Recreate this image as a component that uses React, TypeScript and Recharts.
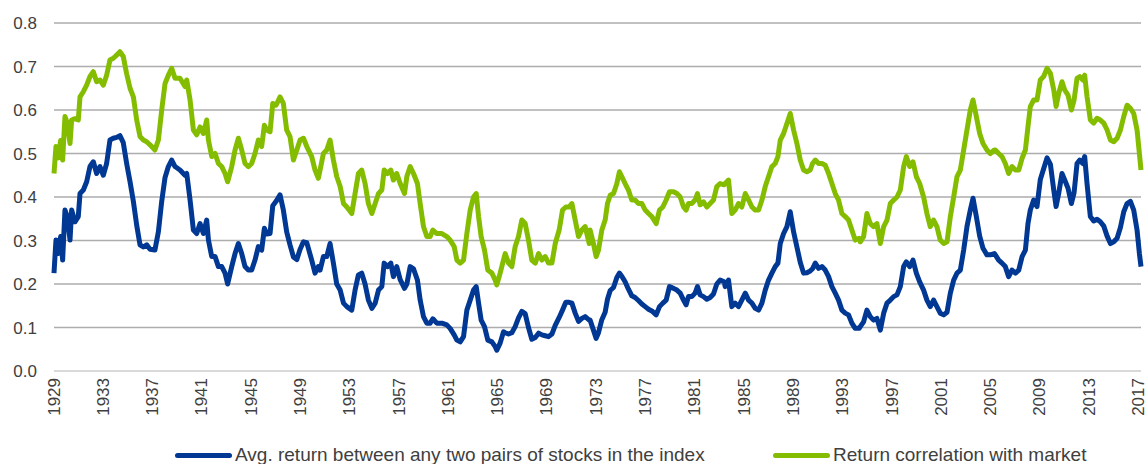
import { CartesianGrid, Line, LineChart, XAxis, YAxis } from 'recharts';

// values, shared year grid for both series
const years = [
  1929.0, 1929.16, 1929.35, 1929.54, 1929.7, 1929.89, 1930.08, 1930.3, 1930.43, 1930.7, 1930.97, 1931.11, 1931.38, 1931.65,
  1931.92, 1932.19, 1932.46, 1932.73, 1933.0, 1933.27, 1933.54, 1933.81, 1934.08, 1934.35, 1934.62, 1934.89, 1935.17, 1935.44,
  1935.71, 1935.98, 1936.25, 1936.52, 1936.79, 1937.19, 1937.47, 1937.74, 1938.01, 1938.28, 1938.55, 1938.82, 1939.22, 1939.63,
  1939.77, 1940.04, 1940.31, 1940.58, 1940.85, 1941.12, 1941.39, 1941.53, 1941.8, 1942.07, 1942.34, 1942.61, 1942.88, 1943.09,
  1943.42, 1943.69, 1943.96, 1944.23, 1944.5, 1944.77, 1945.04, 1945.31, 1945.58, 1945.85, 1946.07, 1946.26, 1946.53, 1946.75,
  1947.02, 1947.34, 1947.61, 1947.88, 1948.15, 1948.43, 1948.7, 1948.97, 1949.24, 1949.51, 1949.91, 1950.18, 1950.45,
  1950.59, 1950.86, 1951.13, 1951.4, 1951.67, 1951.94, 1952.22, 1952.49, 1952.76, 1953.16, 1953.43, 1953.7, 1953.97, 1954.24,
  1954.51, 1954.79, 1955.06, 1955.33, 1955.6, 1955.79, 1956.06, 1956.33, 1956.54, 1956.81, 1957.09, 1957.44, 1957.63, 1957.9,
  1958.17, 1958.49, 1958.71, 1958.98, 1959.25, 1959.52, 1959.74, 1960.06, 1960.47, 1960.87, 1961.14, 1961.47,
  1961.69, 1961.96, 1962.23, 1962.5, 1962.77, 1963.04, 1963.26, 1963.45, 1963.66, 1963.93, 1964.2, 1964.53, 1964.8, 1964.93,
  1965.2, 1965.47, 1965.61, 1965.88, 1966.15, 1966.42, 1966.69, 1966.96, 1967.23, 1967.5, 1967.77, 1968.05, 1968.32, 1968.59,
  1968.86, 1969.13, 1969.4, 1969.67, 1969.99, 1970.26, 1970.53, 1970.8, 1971.02, 1971.29, 1971.56, 1971.83, 1972.1, 1972.43,
  1972.5, 1972.77, 1972.99, 1973.18, 1973.45, 1973.72, 1973.91, 1974.13, 1974.4, 1974.67, 1974.88, 1975.07, 1975.34, 1975.61,
  1975.88, 1976.15, 1976.42, 1976.7, 1976.97, 1977.24, 1977.51, 1977.86, 1978.13, 1978.4, 1978.67, 1978.94, 1979.27, 1979.54,
  1979.81, 1980.08, 1980.29, 1980.48, 1980.75, 1981.02, 1981.21, 1981.43, 1981.7, 1981.97, 1982.24, 1982.51, 1982.78, 1983.05,
  1983.38,
  1983.46, 1983.73, 1984.0, 1984.27, 1984.54, 1984.81, 1985.09, 1985.36, 1985.63, 1985.9, 1986.17, 1986.44, 1986.71, 1986.98,
  1987.25, 1987.52, 1987.74, 1987.93, 1988.2, 1988.47, 1988.74, 1989.01, 1989.28, 1989.55, 1989.82, 1990.09, 1990.36, 1990.55,
  1990.77, 1991.04, 1991.31, 1991.58, 1991.85, 1992.12, 1992.39, 1992.66, 1992.93, 1993.2, 1993.47, 1993.74, 1994.01, 1994.34,
  1994.42, 1994.69, 1994.96, 1995.23, 1995.5, 1995.77, 1996.05, 1996.32, 1996.59, 1996.86, 1997.13, 1997.4, 1997.67, 1997.94,
  1998.16, 1998.43, 1998.7, 1998.97, 1999.24, 1999.56, 1999.83, 2000.1, 2000.37, 2000.64, 2000.91, 2001.19, 2001.46, 2001.73,
  2002.0, 2002.27, 2002.54, 2002.81, 2003.08, 2003.35, 2003.57, 2003.84, 2004.11, 2004.38, 2004.7, 2004.97, 2005.3,
  2005.38, 2005.65, 2005.92, 2006.19, 2006.46, 2006.73, 2007.01, 2007.28, 2007.55, 2007.82, 2008.03, 2008.22, 2008.49, 2008.76,
  2009.03, 2009.3, 2009.58, 2009.85, 2010.12, 2010.31, 2010.52, 2010.79, 2011.01, 2011.28, 2011.55, 2011.77, 2012.01, 2012.23,
  2012.47, 2012.63, 2012.82, 2013.09, 2013.36, 2013.63, 2013.9, 2014.18, 2014.45, 2014.72, 2014.99, 2015.26, 2015.53, 2015.8,
  2016.07, 2016.34, 2016.61, 2016.88, 2017.07, 2017.2,
];

const avgReturn = [
  0.225, 0.301, 0.27, 0.309, 0.255, 0.37, 0.355, 0.301, 0.37, 0.343, 0.355, 0.408, 0.416, 0.435, 0.47, 0.481, 0.454, 0.47, 0.45,
  0.477, 0.531, 0.535, 0.537, 0.541, 0.525, 0.478, 0.435, 0.39, 0.335, 0.29, 0.285, 0.29, 0.28, 0.278, 0.32, 0.39, 0.445, 0.47,
  0.485, 0.47, 0.462, 0.45,
  0.454, 0.393, 0.324, 0.316, 0.339, 0.316, 0.347, 0.301, 0.263, 0.263, 0.24, 0.24, 0.225, 0.2, 0.24, 0.27, 0.293, 0.27, 0.24,
  0.232, 0.232, 0.255, 0.286, 0.278, 0.328, 0.315, 0.316, 0.38, 0.39, 0.405, 0.37, 0.32, 0.29, 0.262, 0.256, 0.28, 0.297, 0.295,
  0.255, 0.225, 0.24,
  0.232, 0.263, 0.263, 0.293, 0.248, 0.2, 0.186, 0.156, 0.148, 0.14, 0.186, 0.221, 0.225, 0.2, 0.163, 0.144, 0.156, 0.186, 0.194,
  0.248, 0.24, 0.248, 0.217, 0.24, 0.21, 0.19, 0.2, 0.24, 0.235, 0.209, 0.163, 0.125, 0.11, 0.11, 0.12, 0.11, 0.11, 0.106, 0.098,
  0.083,
  0.071, 0.067, 0.079, 0.14, 0.163, 0.186, 0.194, 0.156, 0.117, 0.102, 0.071, 0.067, 0.056, 0.048, 0.064, 0.09, 0.088, 0.085,
  0.088, 0.102, 0.122, 0.137, 0.132, 0.1, 0.073, 0.077, 0.087, 0.083, 0.081, 0.079, 0.085, 0.105, 0.123, 0.14, 0.158, 0.158,
  0.156, 0.133, 0.114, 0.121, 0.125, 0.117,
  0.117, 0.094, 0.075, 0.088, 0.118, 0.135, 0.165, 0.185, 0.192, 0.215, 0.225, 0.218, 0.205, 0.188, 0.173, 0.169, 0.162, 0.154,
  0.148, 0.142, 0.138, 0.129, 0.148, 0.156, 0.163, 0.194, 0.19, 0.186, 0.179, 0.163, 0.152, 0.171, 0.171, 0.179, 0.194, 0.175,
  0.171, 0.165, 0.169, 0.177, 0.2, 0.209, 0.205,
  0.194, 0.209, 0.148, 0.156, 0.148, 0.163, 0.179, 0.163, 0.156, 0.144, 0.14, 0.156, 0.186, 0.209, 0.225, 0.24, 0.248, 0.293,
  0.316, 0.332, 0.366, 0.32, 0.285, 0.25, 0.225, 0.226, 0.23, 0.235, 0.248, 0.236, 0.24, 0.232, 0.217, 0.194, 0.179, 0.163, 0.14,
  0.133, 0.129, 0.11, 0.098, 0.098,
  0.102, 0.113, 0.14, 0.125, 0.117, 0.121, 0.094, 0.133, 0.156, 0.163, 0.171, 0.175, 0.194, 0.24, 0.251, 0.24, 0.255, 0.225,
  0.205, 0.186, 0.163, 0.148, 0.163, 0.148, 0.133, 0.129, 0.135, 0.179, 0.209, 0.225, 0.232, 0.278, 0.332, 0.37, 0.397, 0.355,
  0.31, 0.282, 0.267, 0.267, 0.27,
  0.267, 0.255, 0.248, 0.24, 0.217, 0.232, 0.225, 0.232, 0.263, 0.278, 0.339, 0.37, 0.393, 0.378, 0.44, 0.465, 0.49, 0.475,
  0.416, 0.378, 0.408, 0.454, 0.439, 0.42, 0.385, 0.41, 0.477, 0.485, 0.477, 0.493, 0.431, 0.355, 0.345, 0.349, 0.343, 0.333,
  0.31, 0.293, 0.297, 0.305, 0.33, 0.366, 0.385, 0.39, 0.37, 0.324, 0.27, 0.24,
];

const marketCorr = [
  0.454, 0.516, 0.49, 0.53, 0.485, 0.585, 0.57, 0.523, 0.577, 0.58, 0.577, 0.63, 0.642, 0.657, 0.677, 0.688, 0.665, 0.669, 0.657,
  0.68, 0.715, 0.719, 0.726, 0.734, 0.723, 0.684, 0.65, 0.63, 0.577, 0.539, 0.531, 0.527, 0.52, 0.508, 0.531, 0.6, 0.661, 0.68,
  0.696, 0.673, 0.673, 0.654,
  0.669, 0.623, 0.554, 0.543, 0.561, 0.546, 0.577, 0.531, 0.493, 0.5, 0.477, 0.47, 0.454, 0.435, 0.47, 0.508, 0.535, 0.508, 0.477,
  0.47, 0.477, 0.5, 0.531, 0.516, 0.565, 0.554, 0.55, 0.615, 0.611, 0.63, 0.615, 0.554, 0.539, 0.485, 0.508, 0.531, 0.535, 0.516,
  0.493, 0.462, 0.443,
  0.462, 0.5, 0.508, 0.531, 0.485, 0.447, 0.424, 0.385, 0.377, 0.362, 0.408, 0.454, 0.462, 0.431, 0.385, 0.362, 0.385, 0.408,
  0.416, 0.462, 0.454, 0.462, 0.439, 0.454, 0.431, 0.408, 0.447, 0.47, 0.454, 0.431, 0.385, 0.332, 0.309, 0.309, 0.324, 0.316,
  0.316, 0.309, 0.301, 0.286,
  0.255, 0.248, 0.255, 0.316, 0.37, 0.4, 0.408, 0.355, 0.309, 0.278, 0.232, 0.225, 0.209, 0.198, 0.225, 0.255, 0.27, 0.248, 0.24,
  0.286, 0.309, 0.347, 0.339, 0.301, 0.255, 0.248, 0.27, 0.255, 0.263, 0.248, 0.248, 0.293, 0.324, 0.37, 0.377, 0.377, 0.385,
  0.347, 0.309, 0.324, 0.332, 0.293,
  0.324, 0.293, 0.263, 0.278, 0.324, 0.347, 0.385, 0.404, 0.408, 0.431, 0.458, 0.447, 0.431, 0.416, 0.393, 0.393, 0.385, 0.385,
  0.37, 0.362, 0.355, 0.339, 0.37, 0.377, 0.393, 0.412, 0.412, 0.408, 0.4, 0.377, 0.37, 0.385, 0.385, 0.393, 0.408, 0.382, 0.389,
  0.377, 0.385, 0.393, 0.424, 0.431, 0.428,
  0.431, 0.439, 0.362, 0.37, 0.385, 0.377, 0.408, 0.393, 0.377, 0.37, 0.37, 0.393, 0.424, 0.447, 0.47, 0.477, 0.493, 0.531, 0.546,
  0.569, 0.592, 0.554, 0.523, 0.485, 0.462, 0.458, 0.462, 0.477, 0.485, 0.477, 0.477, 0.473, 0.454, 0.431, 0.408, 0.393, 0.362,
  0.355, 0.347, 0.324, 0.301, 0.305,
  0.297, 0.309, 0.362, 0.339, 0.332, 0.339, 0.293, 0.332, 0.347, 0.385, 0.393, 0.4, 0.416, 0.47, 0.493, 0.47, 0.481, 0.447, 0.431,
  0.4, 0.362, 0.332, 0.347, 0.332, 0.301, 0.293, 0.297, 0.355, 0.4, 0.447, 0.462, 0.508, 0.554, 0.6, 0.623, 0.585, 0.546, 0.523,
  0.508, 0.5, 0.508,
  0.508, 0.5, 0.493, 0.477, 0.454, 0.47, 0.462, 0.462, 0.489, 0.508, 0.562, 0.608, 0.623, 0.623, 0.669, 0.677, 0.696, 0.684, 0.646,
  0.608, 0.638, 0.665, 0.646, 0.634, 0.6, 0.623, 0.673, 0.677, 0.669, 0.68, 0.631, 0.577, 0.57, 0.581, 0.577, 0.57, 0.554, 0.531,
  0.527, 0.535, 0.554, 0.585, 0.611, 0.604, 0.592, 0.554, 0.5, 0.462,
];

const yearTicks = [
  1929, 1933, 1937, 1941, 1945, 1949, 1953, 1957, 1961, 1965, 1969, 1973, 1977, 1981, 1985, 1989, 1993, 1997, 2001, 2005, 2009,
  2013, 2017,
];
const valueTicks = [0, 0.1, 0.2, 0.3, 0.4, 0.5, 0.6, 0.7, 0.8];
const gridValues = [0.1, 0.2, 0.3, 0.4, 0.5, 0.6, 0.7, 0.8];

const seriesNames = ['Avg. return between any two pairs of stocks in the index', 'Return correlation with market'];
const seriesColors = ['#003893', '#84bd00'];

const rows = years.map((year, i) => ({ year, avg: avgReturn[i], corr: marketCorr[i] }));

const FONT = '"Liberation Sans", Arial, sans-serif';
const TEXT = '#404040';

function YearTick({ x, y, payload }: any) {
  return (
    <text
      x={x}
      y={y}
      transform={`rotate(-90, ${x}, ${y})`}
      textAnchor="end"
      dominantBaseline="central"
      fontSize={17}
      fill={TEXT}
    >
      {payload.value}
    </text>
  );
}

function LegendItem({ name, color, left }: { name: string; color: string; left: number }) {
  return (
    <div style={{ position: 'absolute', left, top: 444, height: 22, display: 'flex', alignItems: 'center' }}>
      <span style={{ display: 'inline-block', width: 57, height: 5, background: color, borderRadius: 3 }} />
      <span style={{ marginLeft: 3, fontSize: 19, color: TEXT, whiteSpace: 'nowrap' }}>{name}</span>
    </div>
  );
}

export default function App() {
  return (
    <div style={{ position: 'absolute', left: 0, top: 0, width: 1147, height: 464, background: '#fff', fontFamily: FONT }}>
      <LineChart width={1147} height={464} data={rows} margin={{ top: 23, right: 6, bottom: 33, left: 0 }}>
        <CartesianGrid horizontal vertical={false} horizontalValues={gridValues} stroke="#adadad" strokeWidth={1.6} />
        <XAxis
          dataKey="year"
          type="number"
          domain={[1929, 2017.2]}
          ticks={yearTicks}
          interval={0}
          height={60}
          tickLine={false}
          tickMargin={1}
          axisLine={{ stroke: '#d9d9d9', strokeWidth: 2 }}
          tick={<YearTick />}
        />
        <YAxis
          domain={[0, 0.8]}
          ticks={valueTicks}
          width={54}
          axisLine={false}
          tickLine={false}
          tickMargin={11}
          tick={{ fontSize: 17, fill: TEXT }}
          tickFormatter={(v: number) => v.toFixed(1)}
        />
        <Line
          dataKey="corr"
          name={seriesNames[1]}
          stroke={seriesColors[1]}
          strokeWidth={5}
          dot={false}
          type="linear"
          strokeLinejoin="round"
          isAnimationActive={false}
        />
        <Line
          dataKey="avg"
          name={seriesNames[0]}
          stroke={seriesColors[0]}
          strokeWidth={5}
          dot={false}
          type="linear"
          strokeLinejoin="round"
          isAnimationActive={false}
        />
      </LineChart>
      <LegendItem name={seriesNames[0]} color={seriesColors[0]} left={175} />
      <LegendItem name={seriesNames[1]} color={seriesColors[1]} left={773} />
    </div>
  );
}
